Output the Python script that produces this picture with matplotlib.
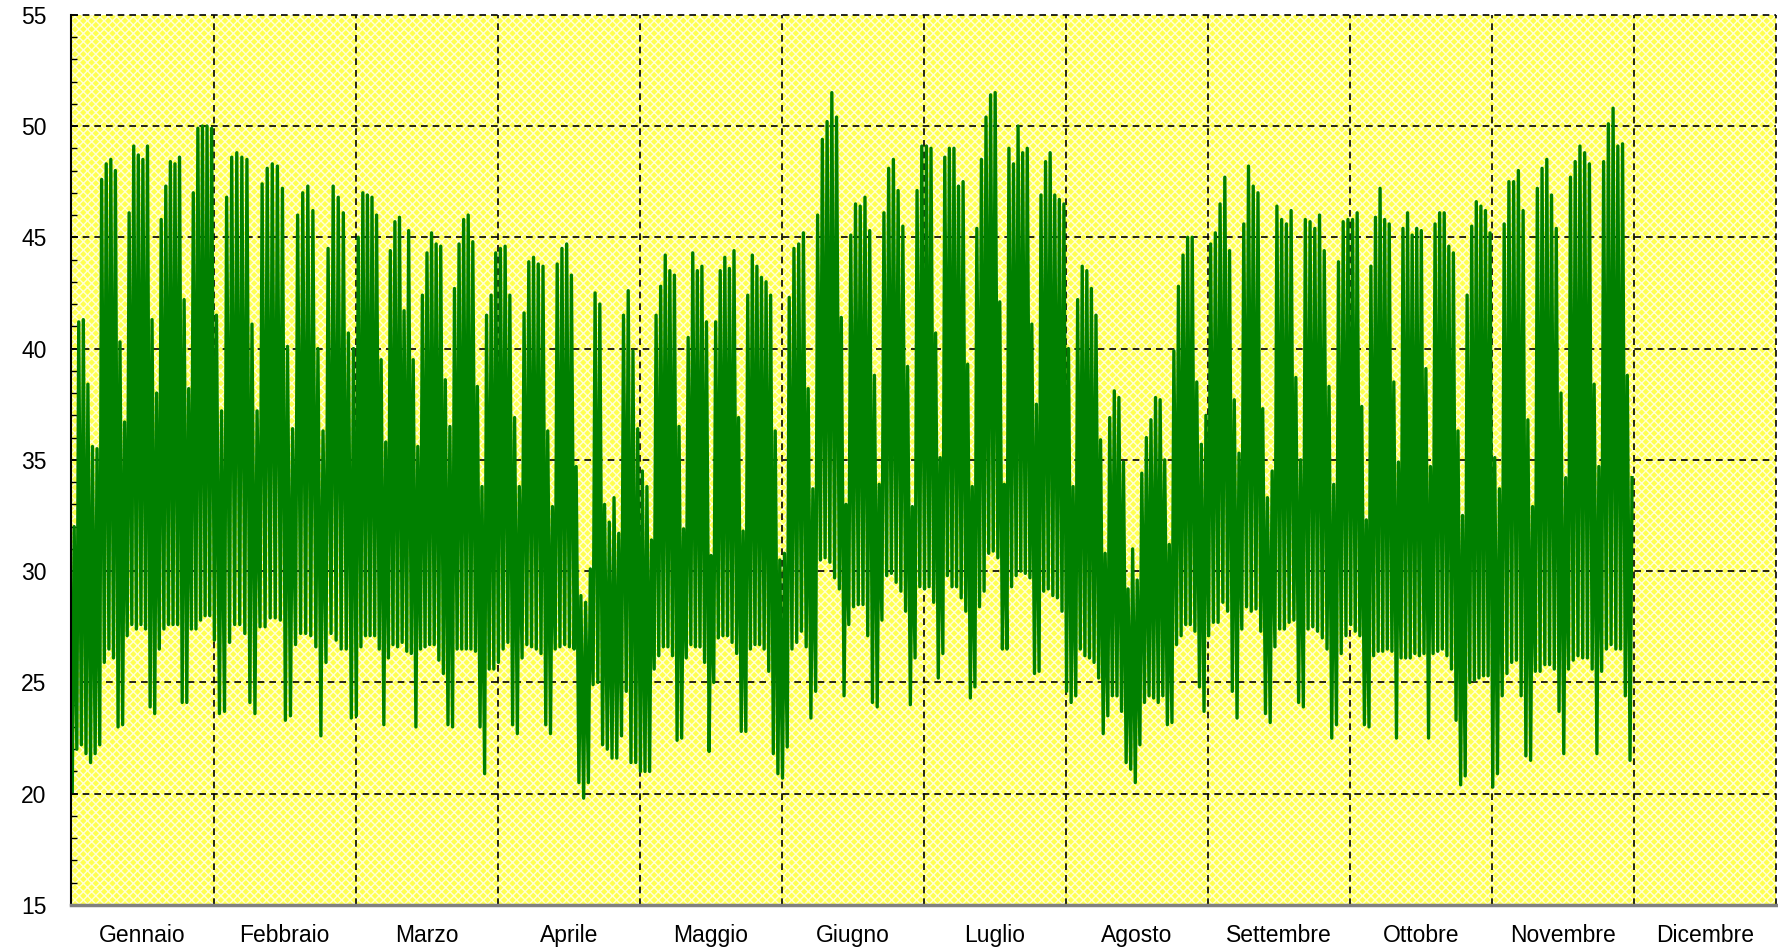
import numpy as np
import matplotlib
matplotlib.use("Agg")
import matplotlib.pyplot as plt
from matplotlib.patches import Rectangle
from matplotlib.ticker import FixedLocator, MultipleLocator

plt.rcParams['font.family'] = ['Liberation Sans', 'DejaVu Sans']

month_names = ["Gennaio", "Febbraio", "Marzo", "Aprile", "Maggio", "Giugno",
               "Luglio", "Agosto", "Settembre", "Ottobre", "Novembre", "Dicembre"]

# daily peak / night minimum of the load, one value per day, month by month
gen_max = [32, 41.2, 41.3, 38.4, 35.6, 35.5, 47.6, 48.3, 48.5, 48, 40.3, 36.7, 46.1, 49.1, 48.7, 48.5,
           49.1, 41.3, 38, 45.8, 47.3, 48.4, 48.3, 48.6, 42.2, 38.2, 47, 49.9, 50, 50, 49.9]
gen_min = [20.1, 22, 22.2, 21.8, 21.4, 21.8, 22.2, 25.9, 26.5, 26.1, 23, 23.1, 27.1, 27.6, 27.4, 27.6,
           27.4, 23.9, 23.6, 26.5, 27.4, 27.6, 27.6, 27.6, 24.1, 24.1, 27.4, 27.4, 27.8, 28, 28]
feb_max = [41.5, 37.2, 46.8, 48.6, 48.8, 48.6, 48.5, 41.1, 37.2, 47.4, 48.1, 48.3, 48.2, 47.2, 40.1,
           36.4, 46, 47, 47.3, 46.2, 40, 36.3, 44.5, 47.3, 46.8, 46.1, 40.7, 40]
feb_min = [26.9, 23.6, 23.7, 26.8, 27.6, 27.6, 27.2, 24.1, 23.6, 27.5, 27.5, 27.9, 27.9, 27.8, 23.3,
           23.5, 26.7, 27.2, 27.2, 27.1, 26.6, 22.6, 25.9, 27.2, 26.9, 26.5, 26.5, 23.4]
mar_max = [45, 47, 46.9, 46.8, 46, 39.5, 35.8, 44.4, 45.7, 45.9, 41.7, 45.3, 39.5, 35.6, 42.4, 44.3,
           45.2, 44.7, 44.6, 38.6, 36.5, 42.7, 44.7, 45.8, 46, 44.8, 38.3, 33.8, 41.5, 42.4, 44.3]
mar_min = [23.5, 26.6, 27.1, 27.1, 27.1, 26.5, 23.1, 26.1, 26.7, 26.6, 26.8, 26.4, 26.3, 23, 26.5, 26.6,
           26.7, 26.7, 26, 25.4, 23.1, 23, 26.5, 26.5, 26.5, 26.5, 26.4, 23, 20.9, 25.6, 25.6]
apr_max = [44.5, 44.6, 42.4, 36.9, 33.8, 41.6, 43.9, 44.1, 43.8, 43.7, 36.3, 32.9, 43.8, 44.5, 44.7,
           43.3, 34.7, 28.9, 28.6, 30.1, 42.5, 42, 33, 32.2, 33.3, 31.7, 41.5, 42.6, 39.9, 36.4]
apr_min = [25.9, 26.5, 26.8, 23.1, 22.7, 26.1, 26.7, 26.6, 26.5, 26.3, 23.1, 22.7, 26.5, 26.6, 26.7,
           26.6, 26.5, 20.5, 19.8, 20.5, 24.9, 25, 22.2, 22, 21.6, 21.6, 22.6, 24.6, 21.4, 21.4]
mag_max = [34.5, 33.8, 31.4, 41.5, 42.8, 44.2, 43.5, 43.3, 36.5, 31.9, 40.5, 44.3, 43.5, 43.7, 41.2,
           30.7, 41.2, 43.5, 44.1, 43.6, 44.4, 36.9, 31.8, 42.4, 44.2, 43.7, 43.2, 43, 42.4, 36.3, 30.5]
mag_min = [21, 21, 21, 25.6, 26.2, 26.6, 26.6, 26.2, 22.4, 22.5, 26.1, 26.7, 26.6, 26.6, 25.9,
           21.9, 25, 27, 27.1, 27.1, 26.8, 26.3, 22.8, 22.8, 26.5, 26.7, 26.7, 26.5, 25.5, 21.8, 20.9]
giu_max = [30.8, 42.3, 44.5, 44.7, 45.2, 38.2, 33.7, 46, 49.4, 50.2, 51.5, 50.4, 41.4, 33, 45.1,
           46.5, 46.4, 46.8, 45.3, 38.8, 33.9, 46.1, 48.1, 48.5, 47.1, 45.5, 39.2, 32.9, 47.1, 49.1]
giu_min = [20.7, 22.1, 26.5, 26.8, 27.3, 26.6, 23.4, 24.6, 30.5, 30.6, 30.4, 29.7, 29.2, 24.4, 27.6,
           28.4, 28.5, 28.5, 27.1, 24.1, 23.9, 27.8, 29.8, 29.9, 29.5, 29.1, 28.2, 24, 26.1, 29.3]
lug_max = [49.1, 49, 40.7, 35.1, 48.6, 49, 49, 47.3, 47.5, 39.3, 33.8, 45.4, 48.5, 50.4, 51.4, 51.5,
           42.1, 33.9, 49, 48.3, 50, 48.8, 49, 41.1, 37.5, 46.9, 48.4, 48.8, 46.9, 46.7, 46.5]
lug_min = [29.2, 29.3, 28.6, 25.2, 26.3, 29.8, 29.3, 29.3, 28.8, 28.2, 24.3, 24.8, 28.4, 29.1, 30.8,
           30.9, 30.6, 26.5, 26.5, 29.3, 29.8, 30, 29.9, 29.7, 25.4, 25.5, 29.1, 29.2, 28.9, 28.8, 28.2]
ago_max = [40, 33.8, 42.2, 43.7, 43.5, 42.7, 41.5, 35.9, 30.8, 36.9, 38.1, 37.8, 34.9, 29.2, 31, 29.6,
           34.4, 36, 36.8, 37.8, 37.7, 35, 31.2, 39.9, 42.8, 44.2, 45, 45, 38.5, 35.7, 37]
ago_min = [24.6, 24.1, 24.4, 26.5, 26.2, 26.1, 25.9, 25.2, 22.7, 23.5, 24.4, 24.4, 23.7, 21.4, 21.1,
           20.5, 22.2, 24.1, 24.4, 24.3, 24.1, 24.4, 23.1, 23.2, 26.7, 27.1, 27.6, 27.6, 27.3, 24.8, 23.7]
set_max = [44.7, 45.2, 46.5, 47.7, 44.4, 37.7, 35.3, 45.6, 48.2, 47.3, 47, 37.3, 33.3, 34.5, 46.4,
           45.8, 45.6, 46.2, 38.7, 35, 45.8, 45.7, 45.4, 46, 44.4, 38.3, 33.9, 43.9, 45.7, 45.8]
set_min = [27.1, 27.7, 27.7, 28.6, 28.2, 24.6, 23.4, 27.4, 28.4, 28.2, 28.3, 27.3, 23.6, 23.2, 26.6,
           27.4, 27.4, 27.7, 27.8, 24.1, 23.9, 27.4, 27.5, 27.3, 27, 26.5, 22.5, 23.1, 26.3, 27.1]
ott_max = [45.8, 46.1, 37.4, 32.3, 43.7, 45.9, 47.2, 45.8, 45.6, 38.5, 34.9, 45.4, 46.1, 45.1, 45.4,
           45.3, 39.1, 34.7, 45.6, 46.1, 46.1, 44.6, 44.3, 36.3, 32.5, 42.4, 45.5, 46.6, 46.4, 46.2, 45.2]
ott_min = [27.6, 27.3, 27.1, 23.1, 23, 26.2, 26.4, 26.4, 26.5, 26.4, 22.5, 26.1, 26.1, 26.1, 26.3,
           26.2, 26.3, 22.5, 26.3, 26.4, 26.5, 26.2, 25.6, 23.3, 20.4, 20.8, 25, 25.1, 25.2, 25.3, 25.3]
nov_max = [35.1, 33.7, 45.6, 47.5, 47.5, 48, 46.2, 36.8, 32.9, 47.2, 48.1, 48.5, 46.9, 45.4, 38,
           34.2, 47.7, 48.4, 49.1, 48.8, 48.3, 38.4, 34.7, 48.4, 50.1, 50.8, 49.1, 49.2, 38.8, 34.2]
nov_min = [20.3, 20.9, 24.4, 25.4, 25.9, 26, 24.4, 21.7, 21.5, 25.5, 25.5, 25.8, 25.8, 25.6, 23.7,
           21.8, 25.6, 26, 26.2, 26.1, 26.1, 25.6, 21.8, 25.5, 26.5, 26.7, 26.5, 26.5, 24.4, 21.5]

peaks = [gen_max, feb_max, mar_max, apr_max, mag_max, giu_max,
         lug_max, ago_max, set_max, ott_max, nov_max]
lows = [gen_min, feb_min, mar_min, apr_min, mag_min, giu_min,
        lug_min, ago_min, set_min, ott_min, nov_min]

# x is measured in months; night minimum at 04:00, daily peak at 14:00
xs, ys = [], []
for m, (pk, lo) in enumerate(zip(peaks, lows)):
    n = len(pk)
    for d in range(n):
        xs.append(m + (d + 4 / 24) / n)
        ys.append(lo[d])
        xs.append(m + (d + 14 / 24) / n)
        ys.append(pk[d])

fig = plt.figure(figsize=(17.78, 9.51), dpi=100)
ax = fig.add_axes([0.0402, 0.0484, 0.9587, 0.9361])

# yellow stippled plot background
plt.rcParams['hatch.linewidth'] = 1.0
ax.set_facecolor('#ffff50')
ax.add_patch(Rectangle((0, 0), 1, 1, transform=ax.transAxes, facecolor='none',
                       edgecolor='#ffffd8', hatch='xxxx', lw=0, zorder=0))

ax.set_xlim(0, 12)
ax.set_ylim(15, 55)

dash = (0, (4, 3))
for yv in range(20, 56, 5):
    ax.axhline(yv, color='black', lw=1.2, ls=dash, zorder=1, clip_on=False)
for xv in range(1, 13):
    ax.axvline(xv, color='black', lw=1.2, ls=dash, zorder=1, clip_on=False)

ax.plot(xs, ys, color='#008000', lw=2.4, zorder=3)

for side in ('top', 'right'):
    ax.spines[side].set_visible(False)
ax.spines['left'].set_color('black')
ax.spines['left'].set_linewidth(1.5)
ax.spines['bottom'].set_color('#808080')
ax.spines['bottom'].set_linewidth(2.5)
ax.spines['left'].set_zorder(4)
ax.spines['bottom'].set_zorder(4)

ax.yaxis.set_major_locator(MultipleLocator(5))
ax.yaxis.set_minor_locator(MultipleLocator(1))
ax.tick_params(axis='y', which='major', direction='in', length=5, width=1.2,
               labelsize=16.5, pad=18)
ax.tick_params(axis='y', which='minor', direction='in', length=4, width=1.0)

ax.xaxis.set_major_locator(FixedLocator(range(0, 13)))
ax.xaxis.set_minor_locator(FixedLocator([m + 0.5 for m in range(12)]))
ax.xaxis.set_major_formatter(plt.NullFormatter())
ax.set_xticklabels(month_names, minor=True)
ax.tick_params(axis='x', which='both', length=0, labelsize=16.5, pad=14)

fig.savefig("out.png", dpi=100)
